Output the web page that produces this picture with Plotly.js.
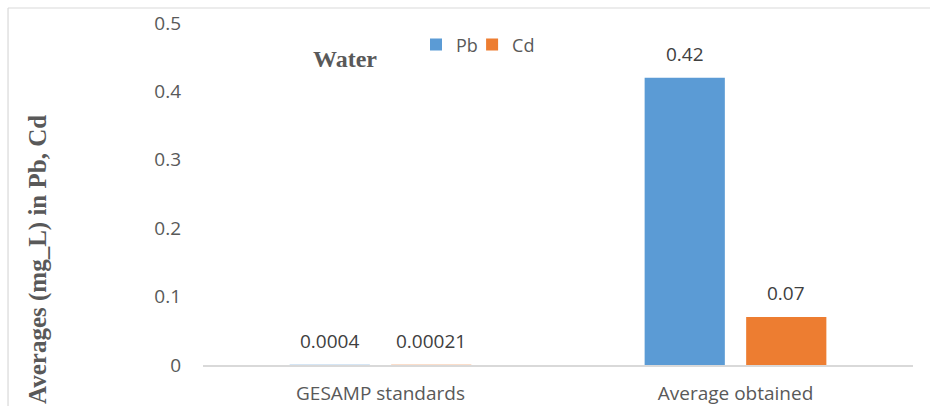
<!DOCTYPE html>
<html>
<head>
<meta charset="utf-8">
<script src="https://cdn.plot.ly/plotly-3.0.1.min.js"></script>
<style>
  html, body { margin: 0; padding: 0; background: #ffffff; }
  #chart { width: 930px; height: 406px; }
</style>
</head>
<body>
<div id="chart"></div>
<script>
// ---- data ----
const categories = ["GESAMP standards", "Average obtained"];
const pbValues = [0.0004, 0.42];
const cdValues = [0.00021, 0.07];
const pbLabels = ["0.0004", "0.42"];
const cdLabels = ["0.00021", "0.07"];
const yTickVals = [0, 0.1, 0.2, 0.3, 0.4, 0.5];
const yTickText = ["0", "0.1", "0.2", "0.3", "0.4", "0.5"];
const seriesNames = ["Pb", "Cd"];
const chartTitle = "Water";
const yTitle = "Averages (mg_L) in Pb, Cd";

const sans = "Open Sans, Noto Sans, sans-serif";
const serif = "Liberation Serif, DejaVu Serif, serif";
const labelColor = "#595959";
const valueColor = "#404040";

const traces = [
  { type: "bar", name: seriesNames[0], x: categories, y: pbValues, legend: "legend",
    marker: { color: "#5B9BD5", line: { width: 0 } }, hoverinfo: "x+y" },
  { type: "bar", name: seriesNames[1], x: categories, y: cdValues, legend: "legend2",
    marker: { color: "#ED7D31", line: { width: 0 } }, hoverinfo: "x+y" }
];

// value labels placed above each bar (data coordinates)
const slotShift = 50.75;
const annotations = [];
categories.forEach((c, i) => {
  annotations.push({ x: c, y: pbValues[i], xref: "x", yref: "y", text: pbLabels[i],
    showarrow: false, xshift: -slotShift, yshift: 24,
    font: { family: sans, size: 19, color: valueColor } });
  annotations.push({ x: c, y: cdValues[i], xref: "x", yref: "y", text: cdLabels[i],
    showarrow: false, xshift: slotShift, yshift: 24,
    font: { family: sans, size: 19, color: valueColor } });
});
annotations.push({ x: 0.2, y: 0.895, xref: "paper", yref: "paper", text: "<b>" + chartTitle + "</b>",
  showarrow: false, xanchor: "center", yanchor: "middle",
  font: { family: serif, size: 24, color: labelColor } });
annotations.push({ x: -0.2324, y: 0.31, xref: "paper", yref: "paper", text: "<b>" + yTitle + "</b>",
  showarrow: false, textangle: -90, xanchor: "center", yanchor: "middle",
  font: { family: serif, size: 25, color: labelColor } });

const legendStyle = (x) => ({ orientation: "h", x: x, y: 0.99, xanchor: "left", yanchor: "top",
  font: { family: sans, size: 18, color: labelColor }, bgcolor: "rgba(0,0,0,0)", itemwidth: 30 });

const layout = {
  width: 930, height: 406,
  margin: { l: 203, r: 17, t: 23, b: 41, pad: 0 },
  paper_bgcolor: "#ffffff", plot_bgcolor: "#ffffff",
  barmode: "group", bargap: 0.428, bargroupgap: 0.21,
  showlegend: true,
  legend: legendStyle(0.30),
  legend2: legendStyle(0.379),
  xaxis: { type: "category", showgrid: false, zeroline: false, showline: true,
    linecolor: "#D9D9D9", linewidth: 1.5, ticks: "", ticklabelstandoff: 11,
    tickfont: { family: sans, size: 19, color: labelColor }, fixedrange: true },
  yaxis: { range: [0, 0.5], showgrid: false, zeroline: false, showline: false,
    tickvals: yTickVals, ticktext: yTickText, ticks: "", ticklabelstandoff: 21,
    tickfont: { family: sans, size: 19, color: labelColor }, fixedrange: true },
  annotations: annotations,
  shapes: [
    { type: "line", xref: "paper", yref: "paper", x0: -0.2746, x1: 1.1, y0: 1.0439, y1: 1.0439,
      line: { color: "#D9D9D9", width: 1.2 } },
    { type: "line", xref: "paper", yref: "paper", x0: -0.2746, x1: -0.2746, y0: -0.2, y1: 1.0439,
      line: { color: "#D9D9D9", width: 1.2 } }
  ]
};

Plotly.newPlot("chart", traces, layout, { displayModeBar: false, staticPlot: true });
</script>
</body>
</html>
